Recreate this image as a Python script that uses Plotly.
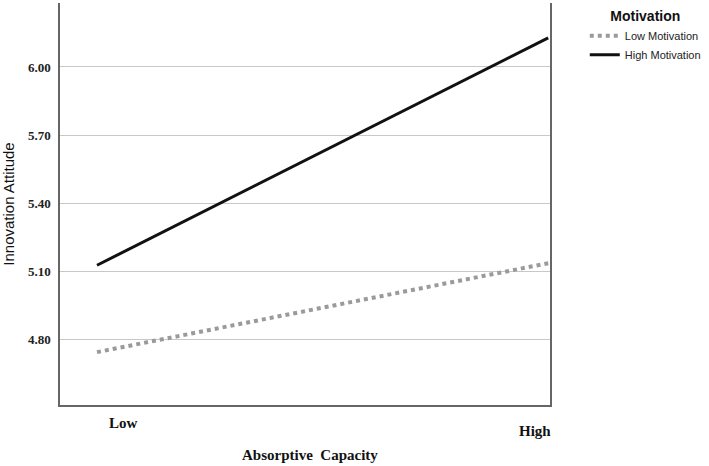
import plotly.graph_objects as go

x_levels = [0, 1]
x_labels = ["Low", "High"]
low_motivation = [4.743, 5.135]
high_motivation = [5.126, 6.128]
y_ticks = [4.80, 5.10, 5.40, 5.70, 6.00]
y_ticktext = ["4.80", "5.10", "5.40", "5.70", "6.00"]

fig = go.Figure()
fig.add_trace(go.Scatter(x=x_levels, y=low_motivation, mode="lines", name="Low Motivation",
                         line=dict(color="#9a9a9a", width=4, dash="dot")))
fig.add_trace(go.Scatter(x=x_levels, y=high_motivation, mode="lines", name="High Motivation",
                         line=dict(color="#111111", width=3)))

fig.update_layout(
    width=709, height=466,
    margin=dict(l=60, r=159, t=3, b=61, autoexpand=False),
    paper_bgcolor="white", plot_bgcolor="white",
    showlegend=True,
    legend=dict(x=1.071, y=1.0, xanchor="left", yanchor="top",
                title=dict(text="Motivation", side="top center",
                           font=dict(family="Liberation Sans, Arial", size=14, color="#111", weight="bold")),
                font=dict(family="Liberation Sans, Arial", size=11, color="#222"),
                itemwidth=30, tracegroupgap=0, bgcolor="rgba(0,0,0,0)"),
    xaxis=dict(range=[-0.082, 1.004], showticklabels=False, showgrid=False, zeroline=False,
               showline=True, linecolor="#666", linewidth=1.5, ticks=""),
    yaxis=dict(range=[4.51, 6.282], tickvals=y_ticks, ticktext=y_ticktext,
               tickfont=dict(family="Liberation Serif, Times New Roman", size=13, color="#222", weight="bold"),
               ticklabelstandoff=5,
               showgrid=True, gridcolor="#c8c8c8", gridwidth=1, zeroline=False,
               showline=True, linecolor="#666", linewidth=1.5, mirror=True, ticks="",
               title=dict(text="Innovation Attitude", standoff=10,
                          font=dict(family="Liberation Sans, Arial", size=15, color="#111"))),
)

fig.add_annotation(x=x_levels[0] + 0.058, y=-0.045, xref="x", yref="paper", text=x_labels[0],
                   xanchor="center", yanchor="middle",
                   showarrow=False, font=dict(family="Liberation Serif, Times New Roman", size=15, color="#111", weight="bold"))
fig.add_annotation(x=x_levels[1] - 0.029, y=-0.065, xref="x", yref="paper", text=x_labels[1],
                   xanchor="center", yanchor="middle",
                   showarrow=False, font=dict(family="Liberation Serif, Times New Roman", size=15, color="#111", weight="bold"))
fig.add_annotation(x=0.51, y=-0.125, xref="paper", yref="paper", text="Absorptive  Capacity",
                   xanchor="center", yanchor="middle",
                   showarrow=False, font=dict(family="Liberation Serif, Times New Roman", size=15, color="#111", weight="bold"))

fig.write_html("out.html")
